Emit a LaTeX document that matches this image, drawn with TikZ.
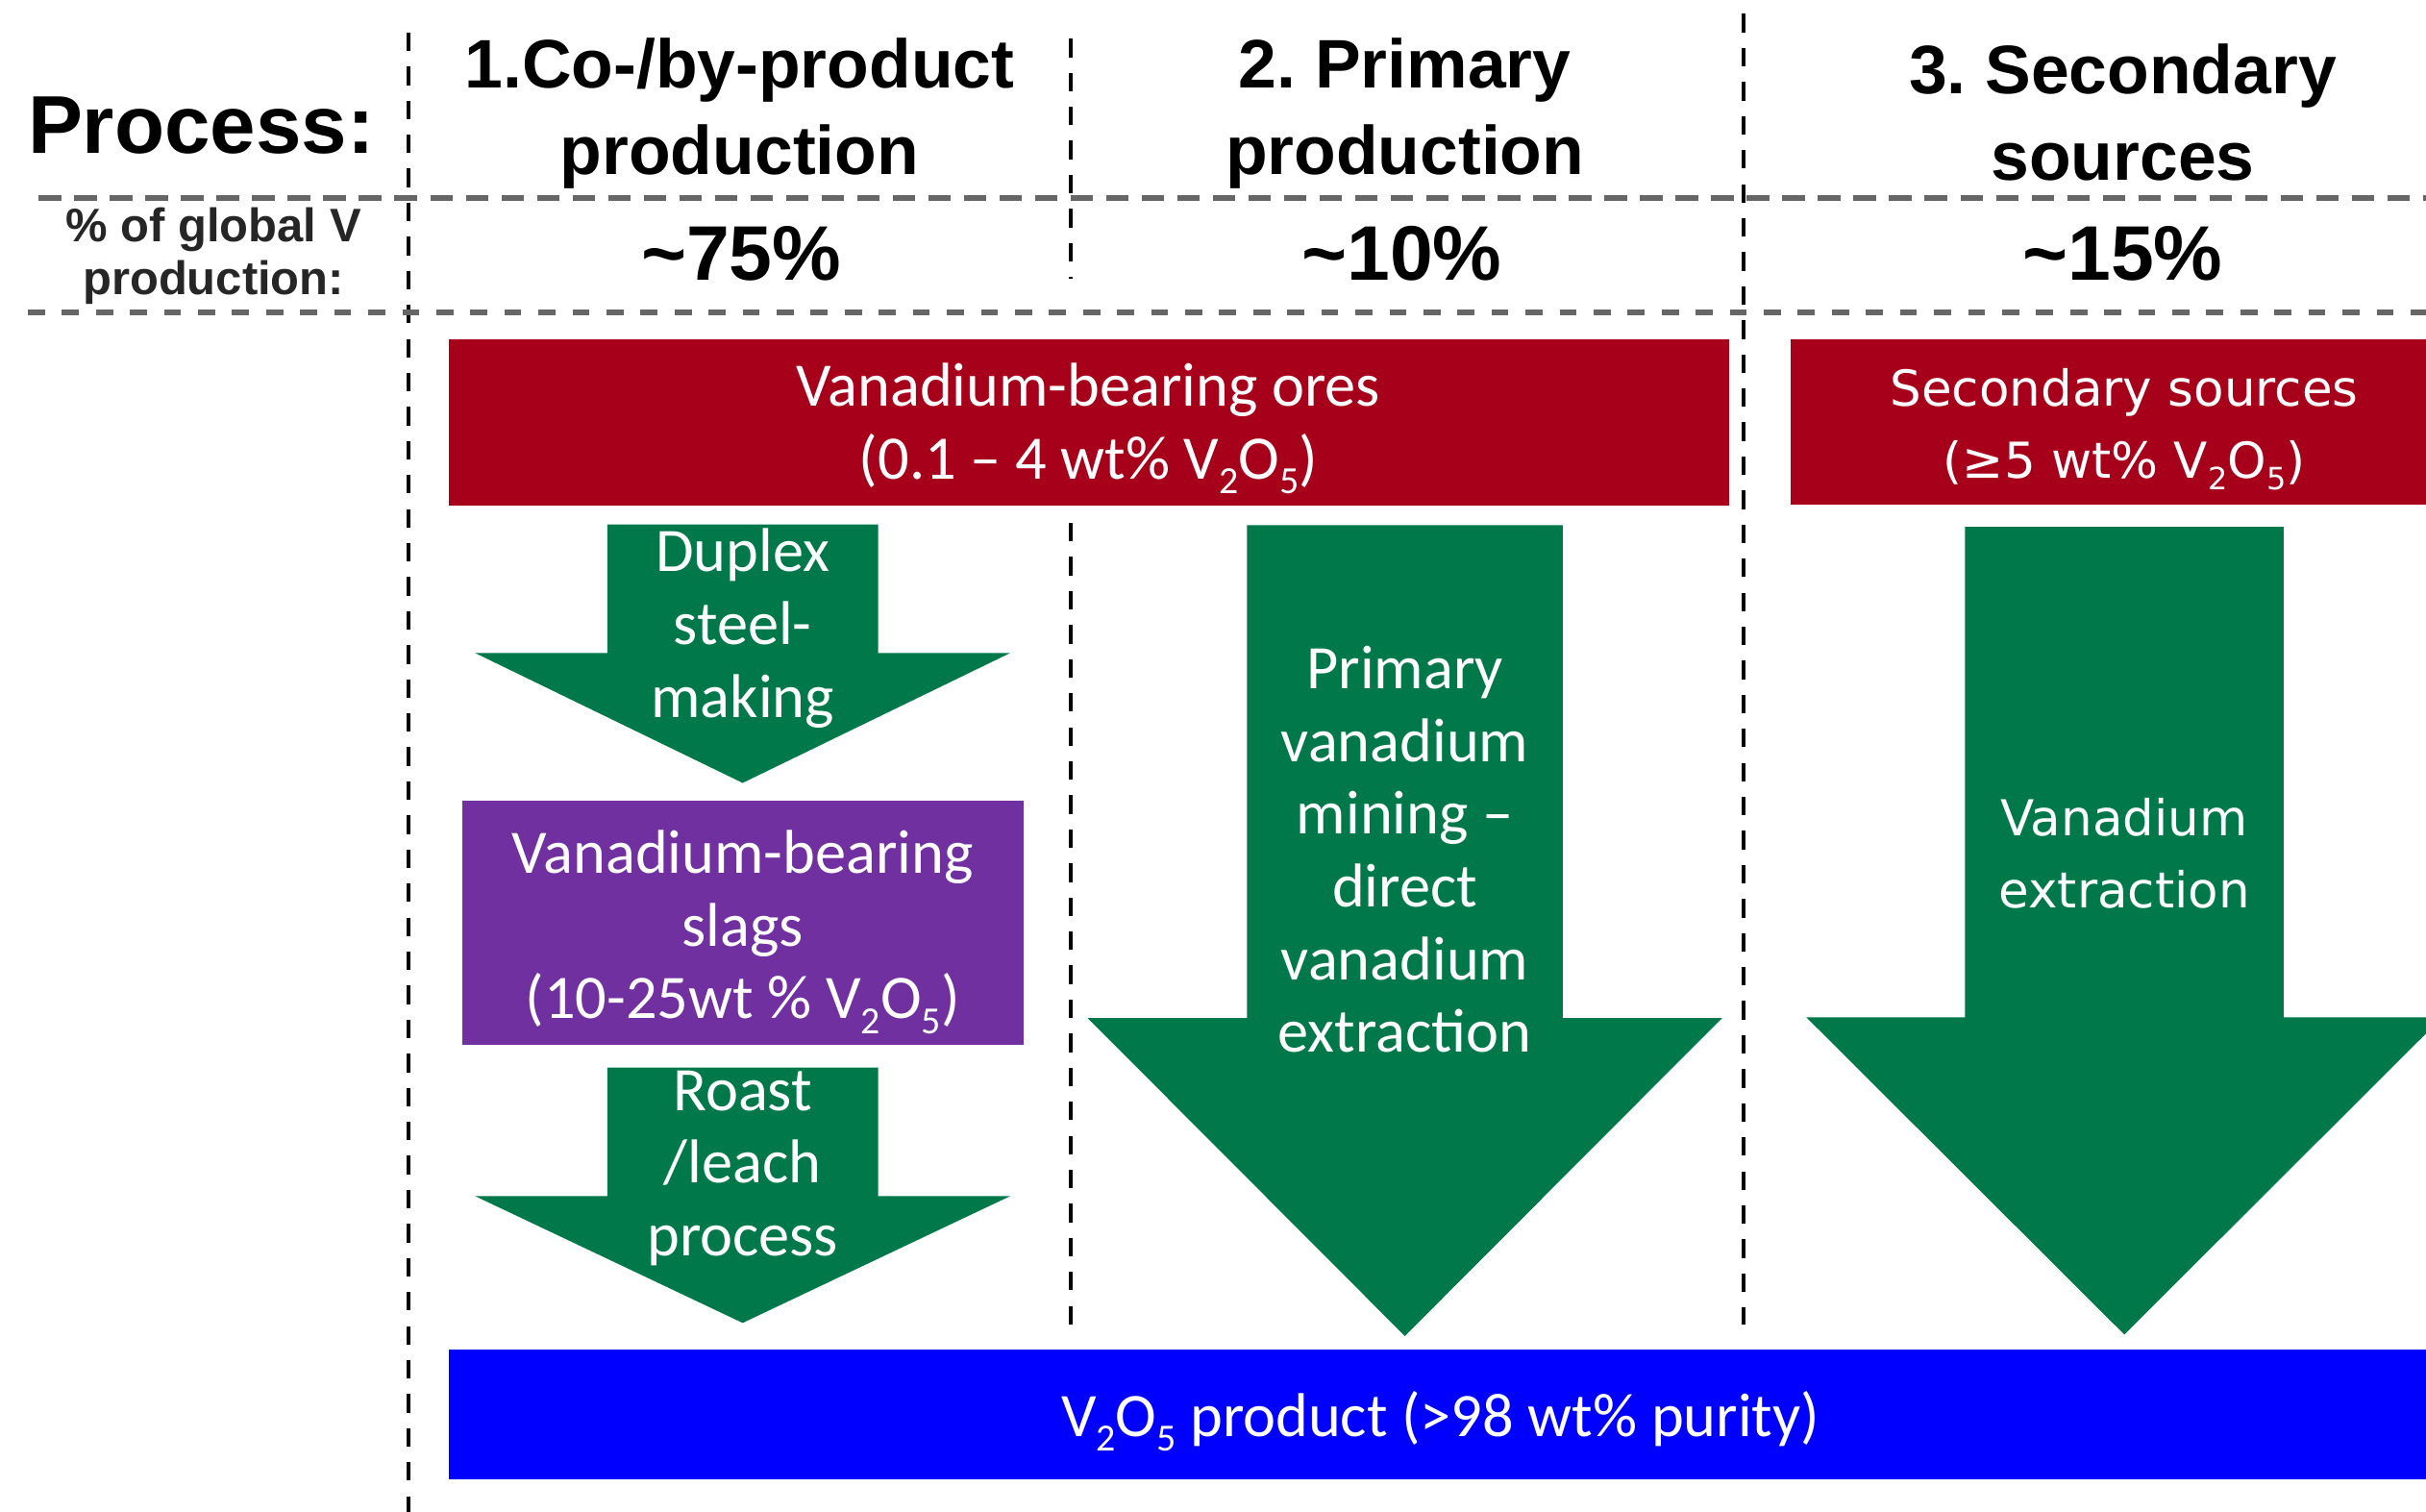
\documentclass[tikz,border=0pt]{standalone}
\usepackage{fontspec}
\setmainfont{Carlito}
\newfontfamily\headfont{Liberation Sans}
\newfontfamily\widefont{DejaVu Sans}
\frenchspacing
\definecolor{oreRed}{RGB}{166,0,26}
\definecolor{flowGreen}{RGB}{0,120,74}
\definecolor{slagPurple}{RGB}{112,48,160}
\definecolor{productBlue}{RGB}{0,0,255}
% lowered, reduced subscript digit
\newcommand{\lowsub}[1]{\raisebox{-0.24em}{\scalebox{0.62}{#1}}}
\newcommand{\vox}{V\lowsub{2}O\lowsub{5}}
% block arrow: centre x, half shaft width, shaft top, head base, half head width, tip
\newcommand{\flowarrow}[6]{%
  \fill[flowGreen] ({#1-#2},#3) -- ({#1+#2},#3) -- ({#1+#2},#4) -- ({#1+#5},#4)
    -- (#1,#6) -- ({#1-#5},#4) -- ({#1-#2},#4) -- cycle;}

\begin{document}
\begin{tikzpicture}[x=0.5pt, y=-0.5pt,
  coltitle/.style={font=\headfont\bfseries\frenchspacing\fontsize{22.2}{28}\selectfont, align=center, inner sep=0pt},
  bigtitle/.style={font=\headfont\bfseries\fontsize{26.5}{30}\selectfont, inner sep=0pt},
  sharelabel/.style={font=\headfont\bfseries\fontsize{15.2}{17}\selectfont, text=black!85, align=center, inner sep=0pt},
  sharevalue/.style={font=\headfont\bfseries\fontsize{25}{30}\selectfont, inner sep=0pt},
  boxtext/.style={font=\fontsize{20}{23.5}\selectfont, text=white, align=center, inner sep=0pt},
  widetext/.style={font=\widefont\fontsize{16}{23.4}\selectfont, text=white, align=center, inner sep=0pt},
  vdash/.style={black, line width=1.25pt, dash pattern=on 6pt off 5pt},
  hdashA/.style={black!60, line width=1.75pt, dash pattern=on 7.25pt off 4.25pt},
  hdashB/.style={black!60, line width=1.75pt, dash pattern=on 5.5pt off 5.5pt},
]
\useasboundingbox (0,0) rectangle (1568,977);
\clip (0,0) rectangle (1568,977);

% grid of dashed separators
\draw[vdash] (264,21) -- (264,977);
\draw[vdash] (692,25) -- (692,180);
\draw[vdash] (692,338) -- (692,863);
\draw[vdash] (1127,9) -- (1127,856);
\draw[hdashA] (25,128) -- (1568,128);
\draw[hdashB] (18,202) -- (1568,202);

% header row
\node[bigtitle] (process) at (130,81) {Process:};
\node[coltitle] (col1) at (478,73.4) {1.Co-/by-product\\production};
\node[coltitle] (col2) at (908,73.4) {2. Primary\\production};
\node[coltitle] (col3) at (1372,72.7) {3. Secondary\\sources};

% share row
\node[sharelabel] (share) at (138,165.5) {\% of global V\\production:};
\node[sharevalue] (share1) at (479,164) {\textasciitilde75\%};
\node[sharevalue] (share2) at (906,164) {\textasciitilde10\%};
\node[sharevalue] (share3) at (1372,164) {\textasciitilde15\%};

% raw materials
\fill[oreRed] (290,219) rectangle (1117.5,327);
\node[boxtext] (ores) at (703.5,277) {Vanadium-bearing ores\\(0.1 – 4 wt\% \vox)};
\fill[oreRed] (1157.5,219.5) rectangle (1600,326);
\node[widetext] (secondary) at (1373,277.5) {Secondary sources\\(≥5 wt\% \vox)};

% co-/by-product route
\flowarrow{480}{87.5}{339}{422}{173}{506}
\node[boxtext] (duplex) at (480,406) {Duplex\\steel-\\making};
\fill[slagPurple] (298.5,517.5) rectangle (661.5,675.5);
\node[boxtext] (slags) at (480,602.5) {Vanadium-bearing\\slags\\(10-25wt \% \vox)};
\flowarrow{480}{87.5}{690}{773}{173}{855}
\node[boxtext] (roast) at (480,755) {Roast\\/leach\\process};

% primary route
\flowarrow{908}{102}{339.5}{658}{205}{863.5}
\node[boxtext] (primary) at (908,549) {Primary\\vanadium\\mining –\\direct\\vanadium\\extraction};

% secondary route
\flowarrow{1373}{103}{340.5}{657.5}{205.5}{862.5}
\node[widetext] (extraction) at (1373,551.4) {Vanadium\\extraction};

% final product
\fill[productBlue] (290,872) rectangle (1600,956);
\node[boxtext] (product) at (931,918.5) {\vox{} product (>98 wt\% purity)};
\end{tikzpicture}
\end{document}
